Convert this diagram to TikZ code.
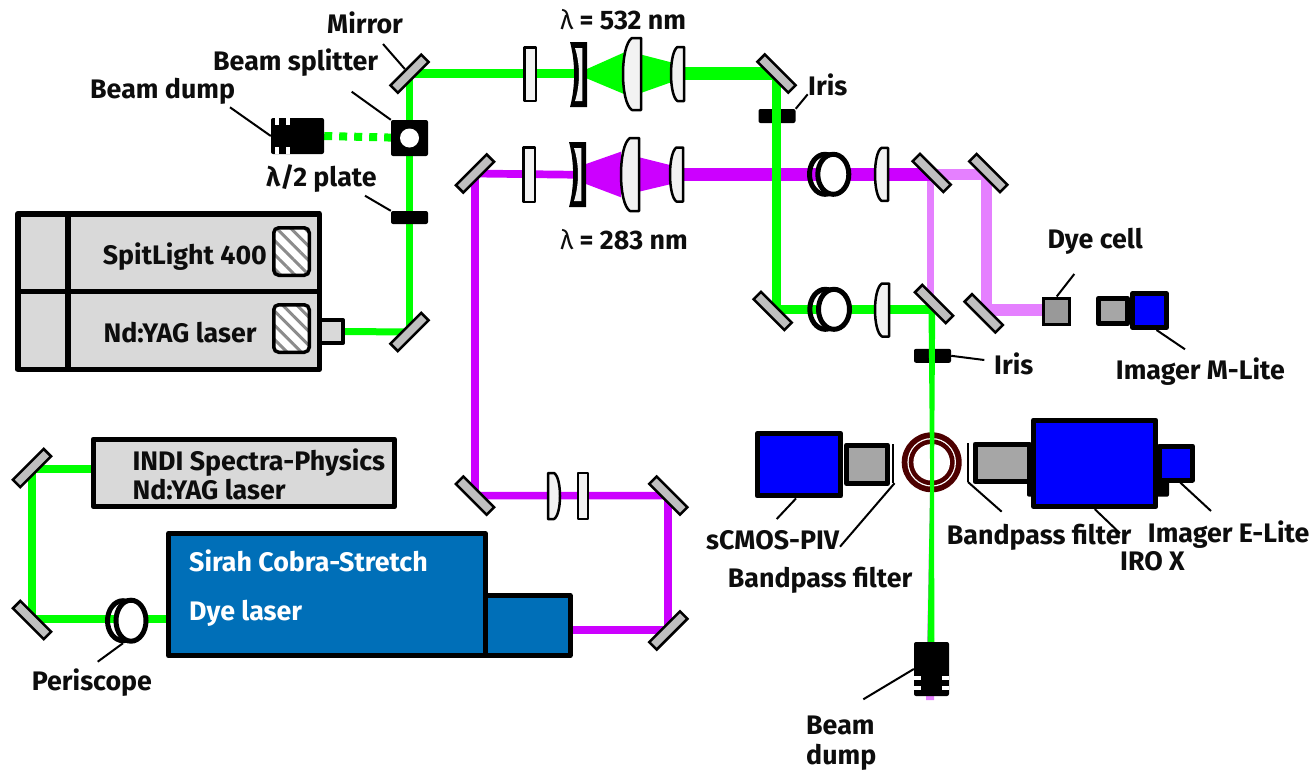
\documentclass[tikz,border=0pt]{standalone}
\usepackage{fontspec}
\setmainfont{Fira Sans}
\usepackage{tikz}
\usetikzlibrary{calc,backgrounds,patterns.meta,shapes.geometric}
\definecolor{beamgreen}{HTML}{00FF00}
\definecolor{beampurple}{HTML}{CC00FF}
\definecolor{beamlight}{HTML}{E580FF}
\definecolor{mirrorgray}{HTML}{BFBFBF}
\definecolor{opticfill}{HTML}{F2F2F2}
\definecolor{boxgray}{HTML}{D9D9D9}
\definecolor{camgray}{HTML}{A6A6A6}
\definecolor{dyeblue}{HTML}{006FB8}
\definecolor{ringred}{HTML}{4D0000}

\begin{document}
\begin{tikzpicture}[x=1pt, y=-1pt, font=\fontsize{26.8}{30}\selectfont\bfseries,
    wh/.style 2 args={minimum width=#1pt, minimum height=#2pt, inner sep=0pt},
    lbl/.style={anchor=base west, inner sep=0pt, yshift=-0.8pt, text=black!95},
    mirror/.style={draw=black, fill=mirrorgray, line width=2.5pt, wh={43.5}{10.5}},
    optic/.style={draw=black, fill=opticfill, line width=2.5pt, line join=round},
    thickbox/.style={draw=black, line width=5pt, line join=round, inner sep=0pt},
    blackbox/.style={fill=black, rounded corners=2pt, inner sep=0pt},
    hatchbox/.style={draw=black, line width=3.5pt, rounded corners=5pt, wh={35.5}{47.5},
      preaction={fill=white}, pattern={Lines[angle=-45,distance=10pt,line width=3pt]},
      pattern color=black!45},
    tube/.style={draw=black, line width=5pt, ellipse, wh={31}{40}},
    leader/.style={draw=black, line width=2pt},
    beam/.style={line width=#1pt, draw=beamgreen},
    pbeam/.style={line width=#1pt, draw=beampurple},
    lbeam/.style={line width=#1pt, draw=beamlight}]
  \useasboundingbox (0,0) rectangle (1309,772);

  \def\drawLens#1#2#3#4{
    \draw[optic] (#1,#2-#3) -- (#1,#2+#3) -- ({#1-0.5*#4},#2+#3)
      .. controls ({#1-1.167*#4},#2+0.8*#3) and ({#1-1.167*#4},#2-0.8*#3) .. ({#1-0.5*#4},#2-#3) -- cycle;
  }
  \def\drawMeniscus#1#2{
    \fill[black] (#1-17,#2-32.5) -- (#1,#2-32.5) -- (#1,#2+32.5) -- (#1-17,#2+32.5)
      .. controls (#1-11.5,#2+12) and (#1-11.5,#2-12) .. cycle;
    \fill[opticfill] (#1-12,#2-26.5) -- (#1-4.7,#2-26.5) -- (#1-4.7,#2+26.5) -- (#1-12,#2+26.5)
      .. controls (#1-6.7,#2+10) and (#1-6.7,#2-10) .. cycle;
  }

  % mirrors
  \node[mirror,rotate=45] (mYagOut) at (409.5,332) {};
  \node[mirror,rotate=45] (mGreenIn) at (409.5,73.7) {};
  \node[mirror,rotate=-45] (mGreenOut) at (776.5,73.5) {};
  \node[mirror,rotate=-45] (mGreenLow) at (772.7,311) {};
  \node[mirror,rotate=45] (mPurpleIn) at (475,173.5) {};
  \node[mirror,rotate=-45] (mSplitA) at (931.7,173) {};
  \node[mirror,rotate=-45] (mSplitB) at (988.3,173) {};
  \node[mirror,rotate=-45] (mCombine) at (934,304) {};
  \node[mirror,rotate=-45] (mToCell) at (983.7,313.3) {};
  \node[mirror,rotate=45] (mIndiA) at (32,468) {};
  \node[mirror,rotate=-45] (mIndiB) at (32,620) {};
  \node[mirror,rotate=-45] (mLowL) at (475,495.6) {};
  \node[mirror,rotate=-45] (mLowR) at (668.3,495.6) {};
  \node[mirror,rotate=45] (mDyeOut) at (668.3,630.5) {};

  % SpitLight laser
  \node[thickbox,fill=boxgray,wh={23}{23},line width=4pt] (yagNozzle) at (331.5,331.5) {};
  \node[thickbox,fill=boxgray,wh={301.5}{155.5},line width=5.5pt] (yagBox) at (168.5,291.5) {};
  \draw[line width=5.5pt] (yagBox.west) -- (yagBox.east);
  \draw[line width=5.5pt] ([xshift=-100.5pt]yagBox.north) -- ([xshift=-100.5pt]yagBox.south);
  \node[hatchbox] (hatchTop) at (291.5,251.5) {};
  \node[hatchbox] (hatchLow) at (291.5,328.5) {};
  \node[lbl] (lblSpit) at (102.7,264) {SpitLight 400};
  \node[lbl] (lblYag) at (103.3,342) {Nd:YAG laser};

  % dump, splitter and plate
  \node[blackbox,wh={53}{36}] (dumpTop) at (297.5,136) {};
  \foreach \x in {275,286} {
    \fill[white] (\x,118) rectangle (\x+4,125);
    \fill[white] (\x,146.5) rectangle (\x+4,154);
  }
  \node[blackbox,wh={37}{36}] (splitter) at (409.5,138) {};
  \node[circle,fill=white,wh={19}{19}] (splitterHole) at (409.5,138) {};
  \node[blackbox,wh={37}{13}] (halfPlate) at (409.5,217.5) {};

  % beam expanders
  \node[optic,wh={11.5}{53.5}] (plateGreen) at (530,74) {};
  \drawMeniscus{587}{74.5}
  \drawLens{641}{74}{36}{18}
  \drawLens{684}{74}{27}{13}
  \node[optic,wh={11.5}{54.5}] (platePurple) at (529,174.5) {};
  \drawMeniscus{586}{174.5}
  \drawLens{639}{174.5}{36.5}{18}
  \drawLens{683}{174.5}{27}{13}

  % periscopes and lenses in front of the cameras
  \node[tube] (tubeA) at (825,174.3) {};
  \node[tube,fill=white] (tubeB) at (833.3,174.3) {};
  \drawLens{888}{174.3}{26.5}{13}
  \node[tube] (tubeC) at (825.3,309.3) {};
  \node[tube,fill=white] (tubeD) at (834,309.3) {};
  \drawLens{889}{310}{26.5}{14}
  \node[tube] (tubeE) at (123,620.7) {};
  \node[tube,fill=white,wh={30}{41}] (tubeF) at (131,620.7) {};
  \drawLens{548}{496}{23}{-12}
  \node[optic,wh={10}{46}] (plateLow) at (583,496) {};

  % cell and imagers
  \node[draw=black,fill=black!40,line width=3pt,wh={26}{26}] (dyeCell) at (1056.7,311) {};
  \node[thickbox,fill=camgray,wh={29.5}{25.5}] (mliteLens) at (1113,311) {};
  \node[thickbox,fill=blue,wh={33.5}{34}] (mlite) at (1149.5,310.5) {};
  \node[thickbox,fill=blue,wh={83.5}{62.5}] (scmos) at (799,464.7) {};
  \node[thickbox,fill=camgray,wh={41}{38.5}] (scmosLens) at (867,464.3) {};
  \node[fill=black,wh={2.7}{39}] (filterLeft) at (893,463.5) {};
  \node[fill=black,wh={2.7}{39}] (filterRight) at (968,462.3) {};
  \node[thickbox,fill=camgray,wh={54}{37.5}] (iroLens) at (1002,462.8) {};
  \node[fill=black,rounded corners=2pt,wh={142}{52}] (iroBack) at (1098,470.7) {};
  \node[thickbox,fill=blue,wh={122.5}{86.5}] (iro) at (1094.7,463.3) {};
  \node[thickbox,fill=blue,wh={32.5}{34}] (elite) at (1176.2,463) {};

  % Sirah and INDI boxes
  \node[thickbox,fill=boxgray,wh={301.5}{67.5}] (indi) at (244,472.8) {};
  \node[thickbox,fill=dyeblue,wh={85}{60.5}] (dyeOut) at (527.5,625.5) {};
  \node[thickbox,fill=dyeblue,wh={316.5}{122.5}] (dyeBox) at (326.8,594.5) {};
  \node[lbl] (lblIndi) at (132.3,469.3) {INDI Spectra-Physics};
  \node[lbl] (lblIndiB) at (132.3,499) {Nd:YAG laser};
  \node[lbl,text=white] (lblSirah) at (189,570.7) {Sirah Cobra-Stretch};
  \node[lbl,text=white] (lblDye) at (189,620) {Dye laser};

  \node[blackbox,wh={35}{54}] (dumpLow) at (931.5,669) {};
  \foreach \y in {676,686} {
    \fill[white] (914,\y) rectangle (921,\y+4);
    \fill[white] (942,\y) rectangle (949,\y+4);
  }

  \coordinate (gExpand) at (580,73.7);
  \coordinate (gCollim) at (680,73.7);
  \coordinate (gDown) at (776.7,73.7);
  \coordinate (gCorner) at (776.7,309.5);
  \coordinate (gTurn) at (931.7,309.5);
  \coordinate (pExpand) at (580,174.8);
  \coordinate (pCollim) at (680,174.5);
  \coordinate (pEnd) at (931.7,174.5);
  \coordinate (lTopA) at (931.7,174.5);
  \coordinate (lTopB) at (986.5,174.5);
  \coordinate (lLowB) at (986.5,310);
  \coordinate (lCell) at (1043,310);
  \coordinate (lThinA) at (930,174.5);
  \coordinate (lThinB) at (930,305);
  \coordinate (indiOut) at (92,469);
  \coordinate (indiA) at (32,469);
  \coordinate (indiB) at (32,619);
  \coordinate (dyeIn) at (166,619);
  \coordinate (dyeExit) at (572,630);
  \coordinate (pLowR) at (668.3,630);
  \coordinate (pLowM) at (668.3,495.6);

  \begin{scope}[on background layer]
    \node[blackbox,wh={37}{14}] (irisTop) at (777,116) {};
    \node[blackbox,wh={37}{14}] (irisLow) at (932.5,355.8) {};
    \node[circle,fill=ringred,wh={60}{60}] (ringOut) at (931.7,462.3) {};
    \node[circle,fill=white,wh={48.6}{48.6}] (ringGap) at (931.7,462.3) {};
    \node[circle,fill=ringred,wh={46}{46}] (ringIn) at (931.7,462.3) {};
    \node[circle,fill=white,wh={36.6}{36.6}] (ringHole) at (931.7,462.3) {};
    % purple path
    \draw[lbeam=7] (lThinA) -- (lThinB);
    \draw[lbeam=11] (lTopA) -- (lTopB);
    \draw[lbeam=11.5] (lTopB) -- (lLowB) -- (lCell);
    \draw[pbeam=8] (dyeExit) -- (pLowR) -- (pLowM);
    \draw[pbeam=7.7] (pLowM) -- (mLowL.center) -- (mPurpleIn.center) -- (pExpand);
    \draw[pbeam=12.5] (pCollim) -- (pEnd);
    \fill[beampurple] (586,164) -- (621,151.7) -- (621,197.3) -- (586,184) -- cycle;
    \fill[beampurple] (639,157.3) -- (670,165) -- (670,184.3) -- (639,191.7) -- cycle;
    % green path
    \draw[beam=7] (yagNozzle.east) -- (mYagOut.center);
    \draw[beam=7.5] (mYagOut.center) -- (mGreenIn.center);
    \draw[beam=9] (mGreenIn.center) -- (gExpand);
    \draw[beam=13] (gCollim) -- (gDown);
    \draw[beam=8.7] (gDown) -- (gCorner);
    \draw[beam=9] (gCorner) -- (gTurn);
    \draw[beam=8,dash pattern=on 8pt off 7pt] (dumpTop.east) -- (splitter.center);
    \fill[beamgreen] (587,69) -- (624,52.5) -- (624,94) -- (587,78.5) -- cycle;
    \fill[beamgreen] (640,54.3) -- (671,62.3) -- (671,82.3) -- (640,93.3) -- cycle;
    \fill[beamlight] (930,495) -- (933.5,495) -- (934.2,700) -- (926,700) -- cycle;
    \fill[beamgreen] (928.5,309) -- (935.2,309) -- (934,480) -- (934.4,645) -- (927.5,645) -- (930.2,480) -- cycle;
    \draw[beam=7.5] (indiOut) -- (indiA) -- (indiB) -- (dyeIn);
  \end{scope}

  % labels and their lines
  \node[lbl] (lblMirror) at (327,32.7) {Mirror};
  \node[lbl] (lblSplit) at (213,70) {Beam splitter};
  \node[lbl] (lblDumpTop) at (90,97.7) {Beam dump};
  \node[lbl] (lblHalf) at (266,185.7) {λ/2 plate};
  \node[lbl] (lblGreen) at (560,29) {{\mdseries λ} = 532 nm};
  \node[lbl] (lblPurple) at (560,249) {{\mdseries λ} = 283 nm};
  \node[lbl] (lblIrisTop) at (808,95) {Iris};
  \node[lbl] (lblCell) at (1047.3,247.3) {Dye cell};
  \node[lbl] (lblIrisLow) at (994,374) {Iris};
  \node[lbl] (lblMlite) at (1115.7,378.3) {Imager M-Lite};
  \node[lbl] (lblScmos) at (706,548.3) {sCMOS-PIV};
  \node[lbl] (lblFilterL) at (727.7,586.7) {Bandpass filter};
  \node[lbl] (lblFilterR) at (946.7,543.3) {Bandpass filter};
  \node[lbl] (lblElite) at (1147.7,541.7) {Imager E-Lite};
  \node[lbl] (lblIro) at (1120,570) {IRO X};
  \node[lbl] (lblPeri) at (31.7,689.3) {Periscope};
  \node[lbl,align=left] (lblDumpLow) at (806,764) {Beam\\dump};

  \coordinate (fMirror) at (383,44);
  \coordinate (fSplit) at (351.7,91.7);
  \coordinate (fDumpTop) at (230,107.3);
  \coordinate (fHalf) at (365,195.7);
  \coordinate (fIrisTop) at (807.7,94.3);
  \coordinate (fIrisLow) at (984.3,360);
  \coordinate (fCell) at (1074.3,274);
  \coordinate (fMlite) at (1185,349.3);
  \coordinate (fScmos) at (776.7,519);
  \coordinate (fFilterL) at (840,546.7);
  \coordinate (fFilterR) at (1001.7,511.7);
  \coordinate (fElite) at (1211,511);
  \coordinate (fIro) at (1120,533.3);
  \coordinate (fDumpLow) at (863.3,699.3);
  \coordinate (fPeri) at (97.7,661.7);

  \draw[leader] (fMirror) -- (mGreenIn.north);
  \draw[leader] (fSplit) -- (splitter.north west);
  \draw[leader] (fDumpTop) -- (dumpTop.west);
  \draw[leader] (fHalf) -- (halfPlate.north west);
  \draw[leader] (fIrisTop) -- (irisTop.north east);
  \draw[leader] (fIrisLow) -- (irisLow.east);
  \draw[leader] (fCell) -- (dyeCell.north);
  \draw[leader] (fMlite) -- ([xshift=7pt]mlite.south);
  \draw[leader] (fScmos) -- ([xshift=-3pt]scmos.south);
  \draw[leader] (fFilterL) -- (filterLeft.south east);
  \draw[leader] (fFilterR) -- (filterRight.south);
  \draw[leader] (fElite) -- ([xshift=4pt]elite.south);
  \draw[leader] (fIro) -- (iro.south);
  \draw[leader] (fDumpLow) -- (dumpLow.west);
  \draw[leader] (fPeri) -- (tubeE.south);
\end{tikzpicture}
\end{document}
